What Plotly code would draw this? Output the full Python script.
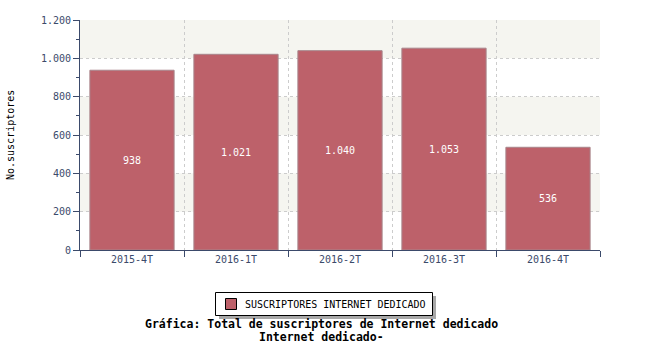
import plotly.graph_objects as go

categories = ["2015-4T", "2016-1T", "2016-2T", "2016-3T", "2016-4T"]
values = [938, 1021, 1040, 1053, 536]
y_ticks = [0, 200, 400, 600, 800, 1000, 1200]
y_ticklabels = ["0", "200", "400", "600", "800", "1.000", "1.200"]
series_name = "SUSCRIPTORES INTERNET DEDICADO"
title_lines = ["Gráfica: Total de suscriptores de Internet dedicado", "Internet dedicado-"]
y_title = "No.suscriptores"

def fmt(v):
    return f"{v:,}".replace(",", ".")

FONT = "DejaVu Sans Mono"
AXIS = "#3b4a6b"
BAR = "#bd616a"

fig = go.Figure()
fig.add_trace(go.Bar(
    x=categories, y=values, name=series_name,
    marker=dict(color=BAR, line=dict(color="#a8868c", width=1)),
    width=0.81,
    text=[fmt(v) for v in values], textposition="inside",
    insidetextanchor="middle", textangle=0,
    textfont=dict(color="white", size=10, family=FONT),
    showlegend=False,
))

def px_x(x):
    return (x - 80) / 520

def px_y(y):
    return (250 - y) / 230

shapes = []
for lo, hi in [(1000, 1200), (600, 800), (200, 400)]:
    shapes.append(dict(type="rect", xref="paper", yref="y", x0=0, x1=1, y0=lo, y1=hi,
                       fillcolor="#f5f5f0", line=dict(width=0), layer="below"))
# legend box: shadow, frame, swatch
shapes.append(dict(type="rect", xref="paper", yref="paper",
                   x0=px_x(219), x1=px_x(436), y0=px_y(319), y1=px_y(296),
                   fillcolor="#a8a8a8", line=dict(width=0), layer="above"))
shapes.append(dict(type="rect", xref="paper", yref="paper",
                   x0=px_x(215.5), x1=px_x(432.5), y0=px_y(315.5), y1=px_y(292.5),
                   fillcolor="white", line=dict(color="#000000", width=1), layer="above"))
shapes.append(dict(type="rect", xref="paper", yref="paper",
                   x0=px_x(225.5), x1=px_x(236.5), y0=px_y(309.5), y1=px_y(298.5),
                   fillcolor=BAR, line=dict(color="#000000", width=1), layer="above"))

fig.update_layout(
    width=650, height=350,
    margin=dict(l=80, r=50, t=20, b=100, autoexpand=False),
    plot_bgcolor="rgba(0,0,0,0)", paper_bgcolor="white",
    font=dict(family=FONT, size=10, color=AXIS),
    shapes=shapes,
    showlegend=False,
    xaxis=dict(type="category", tickson="boundaries", ticks="outside", ticklen=6,
               tickcolor=AXIS, showline=True, linecolor=AXIS, linewidth=1,
               showgrid=True, gridcolor="#cccccc", griddash="dot", gridwidth=1,
               tickfont=dict(family=FONT, size=10, color=AXIS),
               range=[-0.5, 4.5], automargin=False),
    yaxis=dict(range=[0, 1200], tickvals=y_ticks, ticktext=y_ticklabels,
               ticks="outside", ticklen=6, tickcolor=AXIS,
               showline=True, linecolor=AXIS, linewidth=1,
               showgrid=True, gridcolor="#cccccc", griddash="dot", gridwidth=1,
               zeroline=False, automargin=False,
               minor=dict(dtick=100, ticks="outside", ticklen=3, tickcolor=AXIS, showgrid=False),
               tickfont=dict(family=FONT, size=10, color=AXIS)),
)

fig.add_annotation(text=series_name, xref="paper", yref="paper", x=px_x(243), y=px_y(304),
                   xanchor="left", yanchor="middle", showarrow=False,
                   font=dict(family=FONT, size=10, color="#000000"))
fig.add_annotation(text=y_title, xref="paper", yref="paper", x=px_x(10), y=px_y(135),
                   xanchor="center", yanchor="middle", textangle=-90, showarrow=False,
                   font=dict(family=FONT, size=10, color="#000000"))
fig.add_annotation(text="<b>" + title_lines[0] + "</b>", xref="paper", yref="paper",
                   x=px_x(321), y=px_y(324), xanchor="center", yanchor="middle",
                   showarrow=False, font=dict(family=FONT, size=11.5, color="#000000"))
fig.add_annotation(text="<b>" + title_lines[1] + "</b>", xref="paper", yref="paper",
                   x=px_x(321), y=px_y(337), xanchor="center", yanchor="middle",
                   showarrow=False, font=dict(family=FONT, size=11.5, color="#000000"))

fig.write_html("out.html")
